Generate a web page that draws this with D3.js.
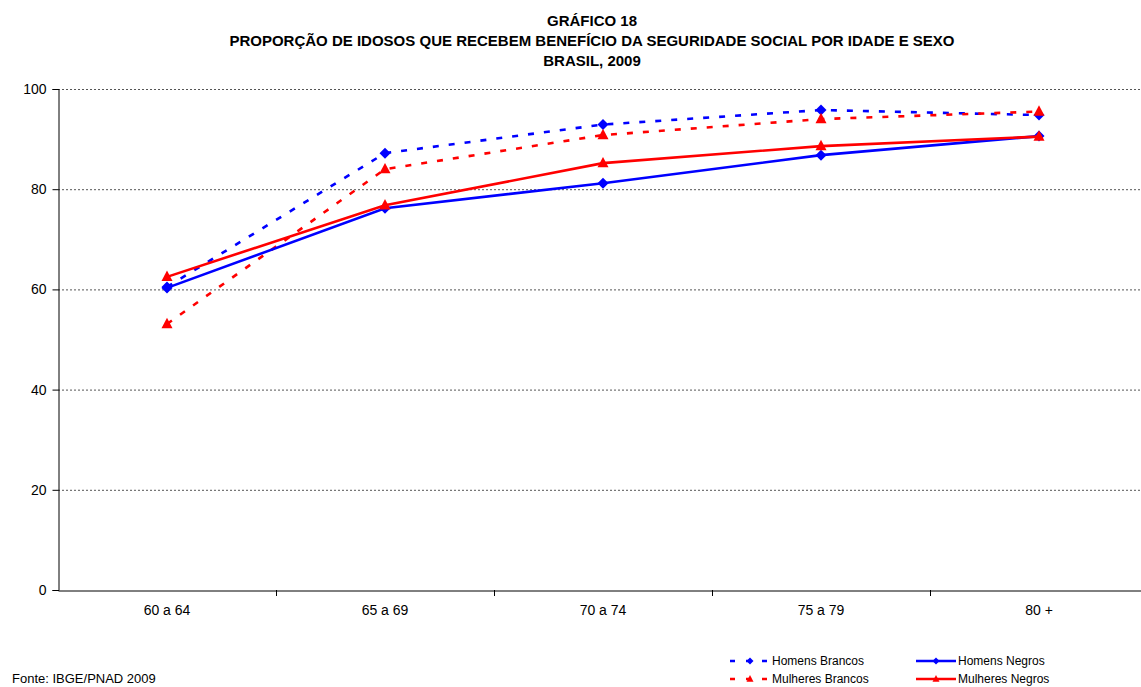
<!DOCTYPE html>
<html><head><meta charset="utf-8">
<script src="https://cdn.jsdelivr.net/npm/d3@7"></script>
<style>body{margin:0;background:#fff;}svg{display:block;font-family:"Liberation Sans",Arial,sans-serif;}</style>
</head><body>
<svg id="chart" width="1141" height="687"></svg>
<script>
const categories = ["60 a 64","65 a 69","70 a 74","75 a 79","80 +"];
const homensBrancos = [60.5, 87.2, 92.9, 95.8, 94.8];
const mulheresBrancos = [53.1, 84.0, 90.8, 94.0, 95.5];
const homensNegros = [60.3, 76.2, 81.2, 86.8, 90.6];
const mulheresNegros = [62.5, 76.8, 85.2, 88.6, 90.5];
const yTicks = [0,20,40,60,80,100];
const titleLines = ["GRÁFICO 18","PROPORÇÃO DE IDOSOS QUE RECEBEM BENEFÍCIO DA SEGURIDADE SOCIAL POR IDADE E SEXO","BRASIL, 2009"];
const source = "Fonte: IBGE/PNAD 2009";

const series = [
  {name:"Homens Brancos", values:homensBrancos, color:"#0000ff", dashed:true, marker:"diamond"},
  {name:"Mulheres Brancos", values:mulheresBrancos, color:"#ff0000", dashed:true, marker:"triangle"},
  {name:"Homens Negros", values:homensNegros, color:"#0000ff", dashed:false, marker:"diamond"},
  {name:"Mulheres Negros", values:mulheresNegros, color:"#ff0000", dashed:false, marker:"triangle"}
];

const svg = d3.select("#chart");
const x = d3.scaleBand().domain(categories).range([58, 1148]);
const y = d3.scaleLinear().domain([0,100]).range([590, 89]);
const cx = c => x(c) + x.bandwidth()/2;

function markerPath(type, r){
  if(type==="diamond") return `M0,${-r}L${r},0L0,${r}L${-r},0Z`;
  const h = r*1.9;
  return `M0,${-h*0.6}L${r},${h*0.4}L${-r},${h*0.4}Z`;
}

// title
svg.append("g").selectAll("text").data(titleLines).join("text")
  .attr("x", 592).attr("y", (d,i)=>26 + i*20)
  .attr("text-anchor","middle").attr("font-weight","bold").attr("font-size",15)
  .text(d=>d);

// gridlines
svg.append("g").selectAll("line").data(yTicks.filter(d=>d>0)).join("line")
  .attr("x1",58).attr("x2",1141).attr("y1",d=>y(d)+0.5).attr("y2",d=>y(d)+0.5)
  .attr("stroke","#555").attr("stroke-width",1).attr("stroke-dasharray","2,2");

// y axis
const yAxis = svg.append("g").attr("transform","translate(58.5,0)")
  .call(d3.axisLeft(y).tickValues(yTicks).tickSize(6).tickPadding(6));
yAxis.select(".domain").attr("stroke","#000");
yAxis.selectAll("text").attr("font-size",14).attr("font-family","Liberation Sans, Arial, sans-serif").attr("fill","#000");

// x axis
const xAxis = svg.append("g").attr("transform","translate(0,590.5)")
  .call(d3.axisBottom(x).tickSize(0).tickPadding(15));
xAxis.select(".domain").attr("stroke","#000");
xAxis.selectAll("text").attr("font-size",14).attr("font-family","Liberation Sans, Arial, sans-serif").attr("fill","#000");
svg.append("g").selectAll("line").data(categories.slice(1)).join("line")
  .attr("x1",d=>Math.round(x(d))+0.5).attr("x2",d=>Math.round(x(d))+0.5)
  .attr("y1",590).attr("y2",596).attr("stroke","#000");

const line = d3.line().x((d,i)=>cx(categories[i])).y(d=>y(d));

series.forEach(s=>{
  const g = svg.append("g");
  g.append("path").attr("d", line(s.values)).attr("fill","none")
    .attr("stroke", s.color).attr("stroke-width", 2.6)
    .attr("stroke-dasharray", s.dashed ? "6,10" : null);
  g.selectAll("path.m").data(s.values).join("path").attr("class","m")
    .attr("transform",(d,i)=>`translate(${cx(categories[i])},${y(d)})`)
    .attr("d", markerPath(s.marker, 5.5))
    .attr("fill", s.color);
});

// legend
const legPos = [{x:730,y:661},{x:730,y:679},{x:916,y:661},{x:916,y:679}];
series.forEach((s,i)=>{
  const p = legPos[i];
  const g = svg.append("g");
  g.append("line").attr("x1",p.x).attr("x2",p.x+40).attr("y1",p.y).attr("y2",p.y)
    .attr("stroke",s.color).attr("stroke-width",2.6)
    .attr("stroke-dasharray", s.dashed ? "5,11" : null);
  g.append("path").attr("transform",`translate(${p.x+20},${p.y})`).attr("d",markerPath(s.marker,3.5)).attr("fill",s.color);
  g.append("text").attr("x",p.x+42).attr("y",p.y+4).attr("font-size",12).text(s.name);
});

svg.append("text").attr("x",12).attr("y",683).attr("font-size",13).text(source);
</script>
</body></html>
